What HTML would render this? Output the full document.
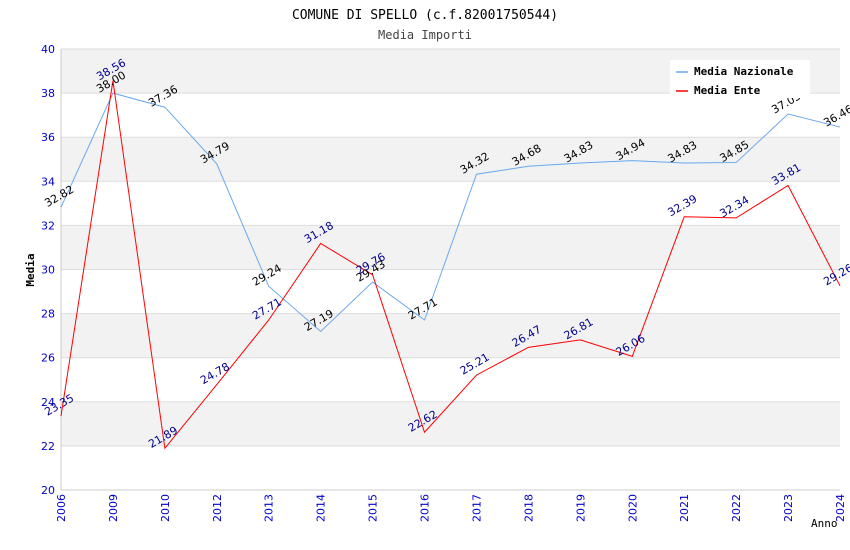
<!DOCTYPE html>
<html><head><meta charset="utf-8">
<style>
body{margin:0;background:#fff;}
svg{display:block;font-family:"DejaVu Sans Mono","Liberation Mono",monospace;}
.sans{font-family:"DejaVu Sans","Liberation Sans",sans-serif;}
</style></head>
<body>
<svg id="chart" width="850" height="550" xmlns="http://www.w3.org/2000/svg">
<text x="425" y="19" text-anchor="middle" font-size="13" fill="#000">COMUNE DI SPELLO (c.f.82001750544)</text>
<text x="425" y="39" text-anchor="middle" font-size="12" fill="#444">Media Importi</text>
<g id="bands"></g>
<g id="grid"></g>
<g id="axes"></g>
<g id="series"></g>
<g id="labels"></g>
<text transform="translate(34,270) rotate(-90)" text-anchor="middle" font-size="11" font-weight="bold" fill="#000">Media</text>
<text x="811" y="527" font-size="11" fill="#000">Anno</text>
<g>
<rect x="670" y="60" width="140" height="38" fill="#fff"/>
<line x1="676" y1="72" x2="688" y2="72" stroke="#6aa9ec" stroke-width="1.5"/>
<text x="694" y="75" font-size="11" font-weight="bold">Media Nazionale</text>
<line x1="676" y1="91" x2="688" y2="91" stroke="#f00" stroke-width="1.5"/>
<text x="694" y="94" font-size="11" font-weight="bold">Media Ente</text>
</g>
</svg>
<script>
const categories=["2006","2009","2010","2012","2013","2014","2015","2016","2017","2018","2019","2020","2021","2022","2023","2024"];
const nazionale=[32.82,38.00,37.36,34.79,29.24,27.19,29.43,27.71,34.32,34.68,34.83,34.94,34.83,34.85,37.05,36.46];
const ente=[23.35,38.56,21.89,24.78,27.71,31.18,29.76,22.62,25.21,26.47,26.81,26.06,32.39,32.34,33.81,29.26];
const yTicks=[20,22,24,26,28,30,32,34,36,38,40];
const NS="http://www.w3.org/2000/svg";
const L=61,R=840,T=49,B=490,yMin=20,yMax=40;
const xs=i=>L+i*(R-L)/(categories.length-1);
const ys=v=>B-(v-yMin)/(yMax-yMin)*(B-T);
function mk(tag,attrs,parent){const e=document.createElementNS(NS,tag);for(const k in attrs)e.setAttribute(k,attrs[k]);document.getElementById(parent).appendChild(e);return e;}
for(let i=0;i<yTicks.length-1;i++){
 if(i%2===1){const r=mk('rect',{x:L,y:ys(yTicks[i+1]),width:R-L,height:ys(yTicks[i])-ys(yTicks[i+1]),fill:'#f2f2f2'},'bands');
 
 }
}
yTicks.forEach(t=>{
 const g=mk('line',{x1:L,x2:R,y1:ys(t),y2:ys(t),stroke:'#ddd'},'grid');
 
 
 const tx=mk('text',{x:L-6,y:ys(t)+4,'text-anchor':'end','font-size':11,fill:'#00c',class:'sans'},'axes');
 tx.textContent=t;
 
 
});
const ax=mk('line',{x1:L,x2:L,y1:T,y2:B,stroke:'#ccc'},'axes');


const bx=mk('line',{x1:L,x2:R,y1:B,y2:B,stroke:'#ccc'},'axes');


categories.forEach((c,i)=>{
 const t=mk('text',{transform:`translate(${xs(i)+4},${B+4}) rotate(-90)`,'text-anchor':'end','font-size':11,fill:'#00c',class:'sans'},'axes');
 t.textContent=c;
 
 
});
function series(vals,color,lblColor,name){
 const p=mk('polyline',{points:vals.map((v,i)=>xs(i)+','+ys(v)).join(' '),fill:'none',stroke:color,'stroke-width':1},'series');
 
 
 vals.forEach((v,i)=>{
  const t=mk('text',{transform:`translate(${xs(i)},${ys(v)-8}) rotate(-30)`,'text-anchor':'middle','font-size':11,fill:lblColor,class:'sans'},'labels');
  t.textContent=v.toFixed(2);
  
  
 });
}
series(nazionale,'#6aa9ec','#000','nazionale');
series(ente,'#f00','#00008b','ente');
</script>
</body></html>
